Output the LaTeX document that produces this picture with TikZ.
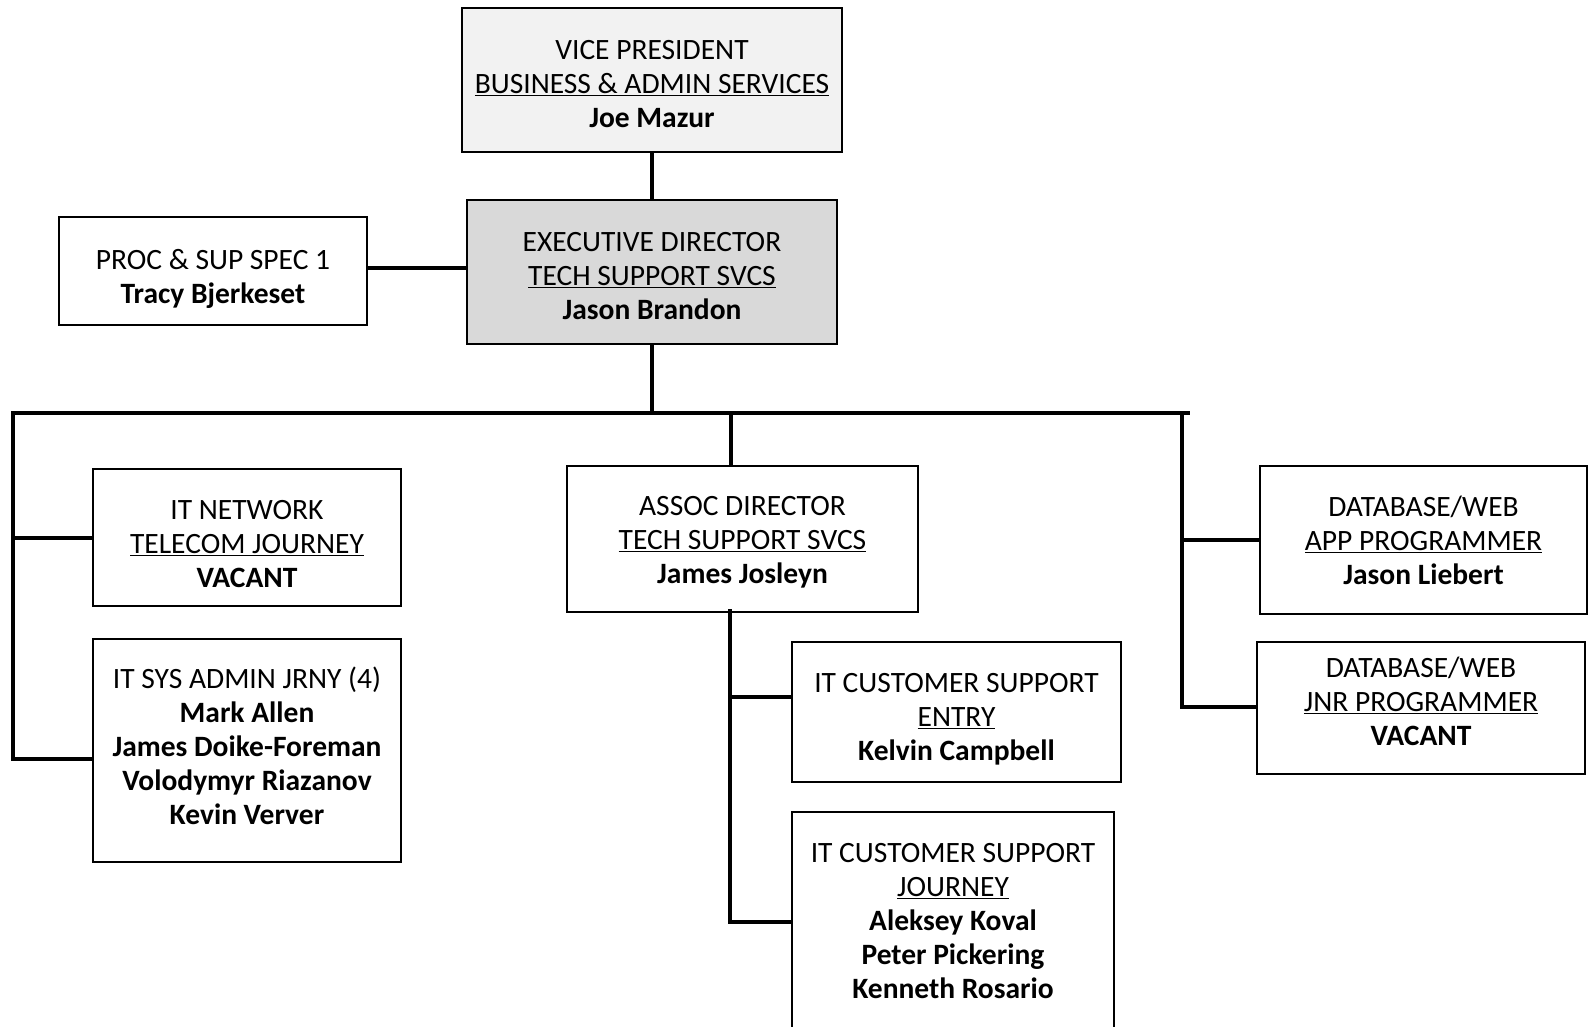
\documentclass[tikz,border=0pt]{standalone}
\usepackage{fontspec}
\setmainfont{Carlito}
\definecolor{vpfill}{HTML}{F2F2F2}
\definecolor{edfill}{HTML}{D9D9D9}
\begin{document}
\begin{tikzpicture}[x=1pt,y=-1pt,
  box/.style={draw, line width=1.8pt, align=center, inner sep=0pt, fill=white,
    anchor=north, font=\fontsize{29.5}{33.8}\selectfont},
  conn/.style={line width=4.6pt, line join=miter, line cap=rect}]
\useasboundingbox (0,0) rectangle (1591,1026);
\clip (0,0) rectangle (1591,1026);
% boxes (anchored at their top edge; text height = last baseline from top)
\node[box, fill=vpfill, minimum width=380pt, text height=119.6pt, text depth=24.4pt] (vp) at (652,7)
  {VICE PRESIDENT\\\underline{BUSINESS \& ADMIN SERVICES}\\\textbf{Joe Mazur}};
\node[box, fill=edfill, minimum width=370pt, text height=119.1pt, text depth=24.9pt] (ed) at (652,199)
  {EXECUTIVE DIRECTOR\\\underline{TECH SUPPORT SVCS}\\\textbf{Jason Brandon}};
\node[box, minimum width=308pt, text height=86.8pt, text depth=21.2pt] (proc) at (213,216)
  {PROC \& SUP SPEC 1\\\textbf{Tracy Bjerkeset}};
\node[box, minimum width=351pt, text height=117.6pt, text depth=28.4pt] (assoc) at (742.5,465)
  {ASSOC DIRECTOR\\\underline{TECH SUPPORT SVCS}\\\textbf{James Josleyn}};
\node[box, minimum width=308pt, text height=118.2pt, text depth=18.8pt] (itnet) at (247,468)
  {IT NETWORK\\\underline{TELECOM JOURNEY}\\\textbf{VACANT}};
\node[box, minimum width=308pt, text height=185.2pt, text depth=37.8pt] (itsys) at (247,638)
  {IT SYS ADMIN JRNY (4)\\\textbf{Mark Allen}\\\textbf{James Doike-Foreman}\\\textbf{Volodymyr Riazanov}\\\textbf{Kevin Verver}};
\node[box, minimum width=327pt, text height=118.6pt, text depth=29.4pt] (dbone) at (1423.5,465)
  {DATABASE/WEB\\\underline{APP PROGRAMMER}\\\textbf{Jason Liebert}};
\node[box, minimum width=328pt, text height=103.6pt, text depth=28.4pt] (dbtwo) at (1421,641)
  {DATABASE/WEB\\\underline{JNR PROGRAMMER}\\\textbf{VACANT}};
\node[box, minimum width=329pt, text height=118.6pt, text depth=21.4pt] (itcse) at (956.5,641)
  {IT CUSTOMER SUPPORT\\\underline{ENTRY}\\\textbf{Kelvin Campbell}};
\node[box, minimum width=322pt, text height=186.2pt, text depth=53.8pt] (itcsj) at (953,811)
  {IT CUSTOMER SUPPORT\\\underline{JOURNEY}\\\textbf{Aleksey Koval}\\\textbf{Peter Pickering}\\\textbf{Kenneth Rosario}};
% coordinates
\coordinate (busL) at (13,413);
\coordinate (busR) at (1188,413);
\coordinate (edbus) at (652,413);
\coordinate (amid) at (731,413);
\coordinate (lbot) at (13,759);
\coordinate (lmid) at (13,538);
\coordinate (rtop) at (1182,413);
\coordinate (rbot) at (1182,707);
\coordinate (rmid) at (1182,540);
\coordinate (atop) at (730,611);
\coordinate (abot) at (730,922);
\coordinate (amidb) at (730,697);
\coordinate (procy) at (0,268);
% connectors
\draw[conn] (vp.south) -- (ed.north);
\draw[conn] (proc.east |- procy) -- (ed.west |- procy);
\draw[conn] (ed.south) -- (edbus);
\draw[conn] (lbot) -- (busL) -- (busR);
\draw[conn] (lbot) -- (lbot -| itsys.west);
\draw[conn] (lmid) -- (lmid -| itnet.west);
\draw[conn] (amid) -- (amid |- assoc.north);
\draw[conn] (rtop) -- (rbot) -- (rbot -| dbtwo.west);
\draw[conn] (rmid) -- (rmid -| dbone.west);
\draw[conn] (atop) -- (abot) -- (abot -| itcsj.west);
\draw[conn] (amidb) -- (amidb -| itcse.west);
\end{tikzpicture}
\end{document}
